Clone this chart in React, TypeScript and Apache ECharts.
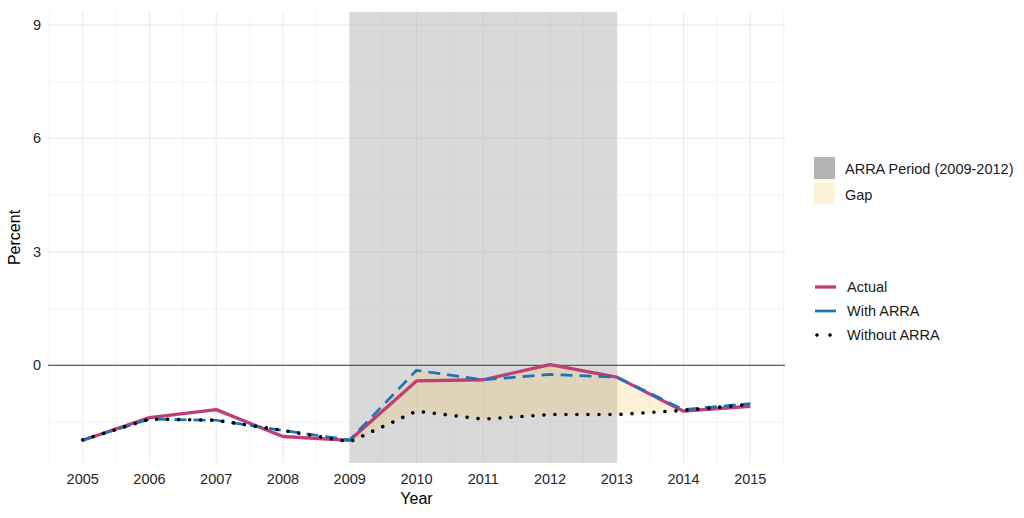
import React, { useEffect, useRef } from "react";
import * as echarts from "echarts";

const years = [2005, 2006, 2007, 2008, 2009, 2010, 2011, 2012, 2013, 2014, 2015];
const actual = [-1.98, -1.38, -1.17, -1.88, -1.98, -0.41, -0.38, 0.02, -0.31, -1.21, -1.08];
const withArra = [-1.97, -1.42, -1.45, -1.72, -1.97, -0.13, -0.38, -0.24, -0.31, -1.17, -1.01];
const withoutArra = [-1.97, -1.42, -1.45, -1.72, -2.02, -1.21, -1.42, -1.3, -1.3, -1.19, -1.03];

const gapYears = [2009, 2010, 2011, 2012, 2013, 2014];
const arraPeriod = [2009, 2013];
const yTickLabels = [0, 3, 6, 9];
const yMajorGrid = [0, 3, 6, 9];
const yMinorGrid = [-1.5, 1.5, 4.5, 7.5];
const xMajorGrid = years;
const xMinorGrid = [2004.5, 2005.5, 2006.5, 2007.5, 2008.5, 2009.5, 2010.5, 2011.5, 2012.5, 2013.5, 2014.5, 2015.5];

const X_MIN = 2004.48;
const X_MAX = 2015.52;
const Y_MIN = -2.58;
const Y_MAX = 9.34;

const FONT = "'Liberation Sans', Arial, Helvetica, sans-serif";
const C_ACTUAL = "#BE3F77";
const C_WITH = "#1A74B8";
const C_WITHOUT = "#000000";

function App() {
  const ref = useRef<HTMLDivElement>(null);

  useEffect(() => {
    if (!ref.current) return;
    const chart = echarts.init(ref.current, null, { renderer: "svg" });

    const pair = (arr: number[]) => years.map((y, i) => [y, arr[i]]);

    const option: any = {
      animation: false,
      backgroundColor: "#ffffff",
      textStyle: { fontFamily: FONT },
      grid: { left: 48, right: 239, top: 12, bottom: 55, containLabel: false, outerBoundsMode: "none" },
      xAxis: {
        type: "value",
        min: X_MIN,
        max: X_MAX,
        name: "Year",
        nameLocation: "middle",
        nameGap: 26,
        nameTextStyle: { fontSize: 16, color: "#000", fontFamily: FONT },
        axisLine: { show: false },
        axisTick: { show: false },
        splitLine: { show: false },
        axisLabel: {
          customValues: years,
          formatter: (v: number) => String(v),
          fontSize: 14.5,
          color: "#262626",
          margin: 8,
          fontFamily: FONT,
        },
      },
      yAxis: {
        type: "value",
        min: Y_MIN,
        max: Y_MAX,
        name: "Percent",
        nameLocation: "middle",
        nameGap: 22,
        nameRotate: 90,
        nameTextStyle: { fontSize: 16, color: "#000", fontFamily: FONT },
        axisLine: { show: false },
        axisTick: { show: false },
        splitLine: { show: false },
        axisLabel: {
          customValues: yTickLabels,
          formatter: (v: number) => String(v),
          fontSize: 14.5,
          color: "#262626",
          margin: 7,
          fontFamily: FONT,
        },
      },
      series: [
        {
          name: "grid",
          type: "custom",
          z: 0,
          silent: true,
          data: [[2010, 0]],
          renderItem: (params: any, api: any) => {
            const children: any[] = [];
            const vline = (x: number, w: number, c: string) => {
              const p1 = api.coord([x, Y_MIN]);
              const p2 = api.coord([x, Y_MAX]);
              children.push({ type: "line", shape: { x1: p1[0], y1: p1[1], x2: p2[0], y2: p2[1] }, style: { stroke: c, lineWidth: w } });
            };
            const hline = (y: number, w: number, c: string) => {
              const p1 = api.coord([X_MIN, y]);
              const p2 = api.coord([X_MAX, y]);
              children.push({ type: "line", shape: { x1: p1[0], y1: p1[1], x2: p2[0], y2: p2[1] }, style: { stroke: c, lineWidth: w } });
            };
            xMinorGrid.forEach((x) => vline(x, 0.8, "#f0f0f0"));
            yMinorGrid.forEach((y) => hline(y, 0.8, "#f0f0f0"));
            xMajorGrid.forEach((x) => vline(x, 1.1, "#ebebeb"));
            yMajorGrid.forEach((y) => hline(y, 1.1, "#ebebeb"));
            return { type: "group", children };
          },
        },
        {
          name: "ARRA Period (2009-2012)",
          type: "custom",
          z: 1,
          silent: true,
          data: [[2010, 0]],
          renderItem: (params: any, api: any) => {
            const p1 = api.coord([arraPeriod[0], Y_MAX]);
            const p2 = api.coord([arraPeriod[1], Y_MIN]);
            return {
              type: "rect",
              shape: { x: p1[0], y: p1[1], width: p2[0] - p1[0], height: p2[1] - p1[1] },
              style: { fill: "rgba(179,179,179,0.5)" },
            };
          },
        },
        {
          name: "Gap",
          type: "custom",
          z: 2,
          silent: true,
          data: [[2010, 0]],
          renderItem: (params: any, api: any) => {
            const upper = gapYears.map((yr) => {
              const i = years.indexOf(yr);
              return api.coord([yr, Math.max(actual[i], withArra[i])]);
            });
            const lower = gapYears
              .slice()
              .reverse()
              .map((yr) => {
                const i = years.indexOf(yr);
                return api.coord([yr, withoutArra[i]]);
              });
            return {
              type: "polygon",
              shape: { points: upper.concat(lower) },
              style: { fill: "rgba(244,196,92,0.25)" },
            };
          },
        },
        {
          name: "zero",
          type: "custom",
          z: 3,
          silent: true,
          data: [[2010, 0]],
          renderItem: (params: any, api: any) => {
            const p1 = api.coord([X_MIN, 0]);
            const p2 = api.coord([X_MAX, 0]);
            return {
              type: "line",
              shape: { x1: p1[0], y1: p1[1], x2: p2[0], y2: p2[1] },
              style: { stroke: "#5a5a5a", lineWidth: 1.3 },
            };
          },
        },
        {
          name: "Actual",
          type: "line",
          z: 4,
          data: pair(actual),
          symbol: "none",
          lineStyle: { color: C_ACTUAL, width: 3.3, cap: "butt", join: "round" },
        },
        {
          name: "With ARRA",
          type: "line",
          z: 5,
          data: pair(withArra),
          symbol: "none",
          lineStyle: { color: C_WITH, width: 2.7, type: [12, 7], cap: "butt" },
        },
        {
          name: "Without ARRA",
          type: "line",
          z: 6,
          data: pair(withoutArra),
          symbol: "none",
          lineStyle: { color: C_WITHOUT, width: 3.6, type: [0.01, 11], cap: "round" },
        },
      ],
      graphic: [
        { type: "rect", left: 814, top: 157, shape: { width: 21, height: 22 }, style: { fill: "#b3b3b3" } },
        { type: "rect", left: 814, top: 182, shape: { width: 21, height: 22 }, style: { fill: "#fdf1d8" } },
        { type: "text", x: 845, y: 169, style: { text: "ARRA Period (2009-2012)", fontSize: 14.5, fill: "#1a1a1a", fontFamily: FONT, verticalAlign: "middle" } },
        { type: "text", x: 845, y: 195, style: { text: "Gap", fontSize: 14.5, fill: "#1a1a1a", fontFamily: FONT, verticalAlign: "middle" } },
        { type: "line", shape: { x1: 815, y1: 287, x2: 836, y2: 287 }, style: { stroke: C_ACTUAL, lineWidth: 3.3 } },
        { type: "line", shape: { x1: 815, y1: 311, x2: 836, y2: 311 }, style: { stroke: C_WITH, lineWidth: 2.7 } },
        { type: "circle", shape: { cx: 817, cy: 335, r: 1.8 }, style: { fill: C_WITHOUT } },
        { type: "circle", shape: { cx: 830, cy: 335, r: 1.8 }, style: { fill: C_WITHOUT } },
        { type: "text", x: 847, y: 287, style: { text: "Actual", fontSize: 14.5, fill: "#1a1a1a", fontFamily: FONT, verticalAlign: "middle" } },
        { type: "text", x: 847, y: 311, style: { text: "With ARRA", fontSize: 14.5, fill: "#1a1a1a", fontFamily: FONT, verticalAlign: "middle" } },
        { type: "text", x: 847, y: 335, style: { text: "Without ARRA", fontSize: 14.5, fill: "#1a1a1a", fontFamily: FONT, verticalAlign: "middle" } },
      ],
    };

    chart.setOption(option);
    return () => chart.dispose();
  }, []);

  return <div ref={ref} style={{ position: "absolute", left: 0, top: 0, width: 1024, height: 518 }} />;
}

export default App;
